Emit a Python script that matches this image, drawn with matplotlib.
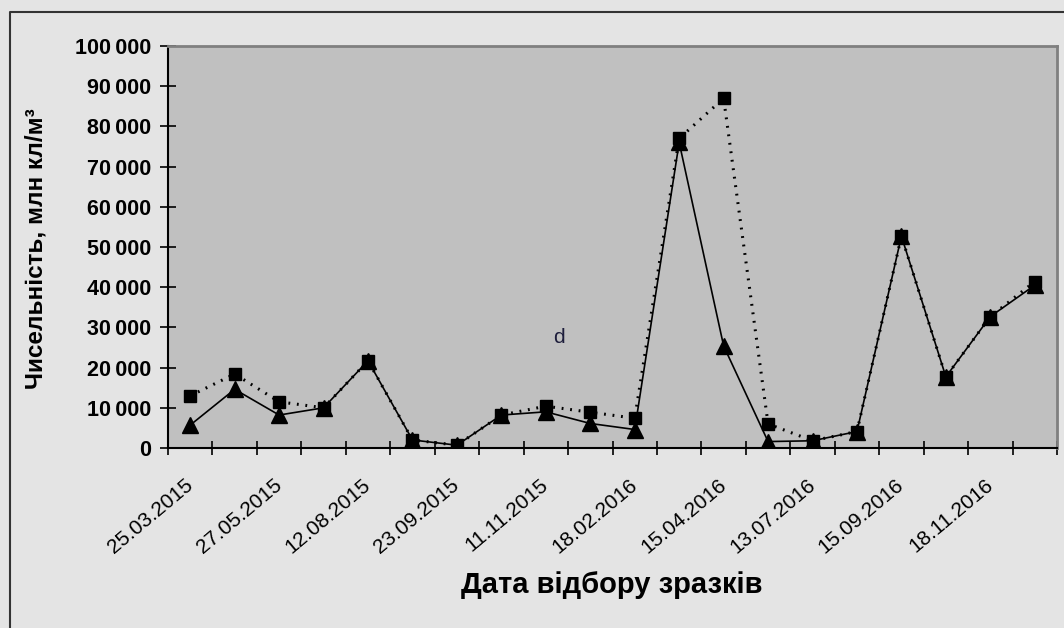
import numpy as np
import matplotlib.pyplot as plt
from matplotlib.lines import Line2D
from matplotlib.ticker import FuncFormatter

plt.rcParams['font.family'] = ['Liberation Sans', 'DejaVu Sans']

# Дані
date_labels = ['25.03.2015', '27.05.2015', '12.08.2015', '23.09.2015', '11.11.2015',
               '18.02.2016', '15.04.2016', '13.07.2016', '15.09.2016', '18.11.2016']
squares = [13000, 18400, 11500, 10000, 21700, 2000, 700, 8200, 10400, 8900,
           7400, 77000, 87000, 6000, 1800, 4100, 52700, 17700, 32700, 41400]
triangles = [5700, 14600, 8200, 10000, 21700, 2000, 700, 8200, 9000, 6100,
             4600, 76000, 25400, 1600, 1800, 4100, 52700, 17700, 32700, 40500]

n = len(squares)
x = np.arange(n)

fig = plt.figure(figsize=(10.64, 6.28), dpi=100, facecolor='#e4e4e4')
ax = fig.add_axes([168/1064, 1 - 448/628, (1057 - 168)/1064, (448 - 46)/628])
ax.set_facecolor('#c0c0c0')

ax.plot(x, triangles, color='black', lw=1.2, marker='^', markersize=12,
        markerfacecolor='black', markeredgecolor='black', zorder=3)
ax.plot(x, squares, color='black', lw=2.2, linestyle=(0, (0.6, 2.2)),
        marker='s', markersize=8.5, markerfacecolor='black',
        markeredgecolor='black', zorder=4)

ax.text(8.3, 27400, 'd', fontsize=15, color='#1e1e3c', ha='center', va='center')

ax.set_xlim(-0.5, n - 0.5)
ax.set_ylim(0, 100000)
ax.set_yticks(np.arange(0, 100001, 10000))
ax.yaxis.set_major_formatter(FuncFormatter(
    lambda v, p: '0' if v == 0 else f'{int(v):,}'.replace(',', '\u2009')))
ax.tick_params(axis='y', direction='inout', length=12, width=1.2,
               labelsize=15.5, pad=6, colors='black')
for lab in ax.get_yticklabels():
    lab.set_fontweight('bold')

# риски на межах категорій, підписи через одну
ax.set_xticks(np.arange(-0.5, n, 1.0))
ax.set_xticklabels([])
ax.tick_params(axis='x', which='major', direction='inout', length=10, width=1.2)
ax.set_xticks(x[::2], minor=True)
ax.set_xticklabels(date_labels, minor=True, rotation=40, ha='right', va='center',
                   rotation_mode='anchor', fontsize=15)
ax.tick_params(axis='x', which='minor', length=0, pad=25)

for s in ['left', 'bottom']:
    ax.spines[s].set_color('black')
    ax.spines[s].set_linewidth(1.5)
for s in ['top', 'right']:
    ax.spines[s].set_color('#808080')
    ax.spines[s].set_linewidth(2)

fig.text(612/1064, 1 - 593/628, 'Дата відбору зразків', ha='center',
         va='baseline', fontsize=21, fontweight='bold')
fig.text(36/1064, 1 - 249/628, 'Чисельність, млн кл/м³', rotation=90,
         ha='center', va='center', fontsize=17.5, fontweight='bold')

# рамка
fig.add_artist(Line2D([10/1064, 10/1064, 1.0], [0, 1 - 12/628, 1 - 12/628],
                      transform=fig.transFigure, color='#333333', lw=1.5))

fig.savefig('out.png', dpi=100, facecolor=fig.get_facecolor())
